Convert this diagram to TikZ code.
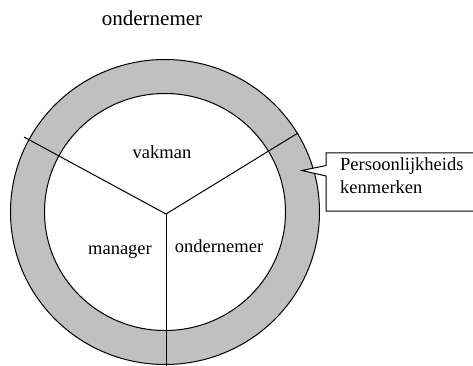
\documentclass[tikz,border=0pt]{standalone}
\usepackage{fontspec}
\setmainfont{Liberation Serif}
\definecolor{ringgrey}{HTML}{C0C0C0}
\tikzset{
  lbl/.style={font=\fontsize{18.5}{22}\selectfont, inner sep=0pt, anchor=base},
  ttl/.style={font=\fontsize{21}{25}\selectfont, inner sep=0pt, anchor=base},
  ln/.style={draw=black, line width=1pt}
}
\begin{document}
\begin{tikzpicture}[x=1pt,y=-1pt]
\useasboundingbox (0,0) rectangle (473,366);
% ring
\fill[ringgrey, even odd rule] (165,212) ellipse [x radius=154.5, y radius=152.5]
  (165,212) ellipse [x radius=120.5, y radius=118.5];
\draw[ln] (165,212) ellipse [x radius=154.5, y radius=152.5];
\draw[ln] (165,212) ellipse [x radius=120.5, y radius=118.5];
% spokes
\coordinate (c) at (166,214);
\coordinate (ul) at (24,137);
\coordinate (ur) at (298,133);
\coordinate (dn) at (166,370);
\draw[ln] (c) -- (ul);
\draw[ln] (c) -- (ur);
\draw[ln] (c) -- (dn);
% labels
\node[ttl] (title) at (152,26) {ondernemer};
\node[lbl] (vak) at (162,158) {vakman};
\node[lbl] (man) at (120,254) {manager};
\node[lbl] (ond) at (219,252) {ondernemer};
% callout
\draw[ln, fill=white] (326,153) -- (476,153) -- (476,211) -- (326,211) -- (326,176)
  -- (302,170.5) -- (326,165.5) -- cycle;
\node[lbl, anchor=base west] (p1) at (340,171) {Persoonlijkheids};
\node[lbl, anchor=base west] (p2) at (340,193) {kenmerken};
\end{tikzpicture}
\end{document}
